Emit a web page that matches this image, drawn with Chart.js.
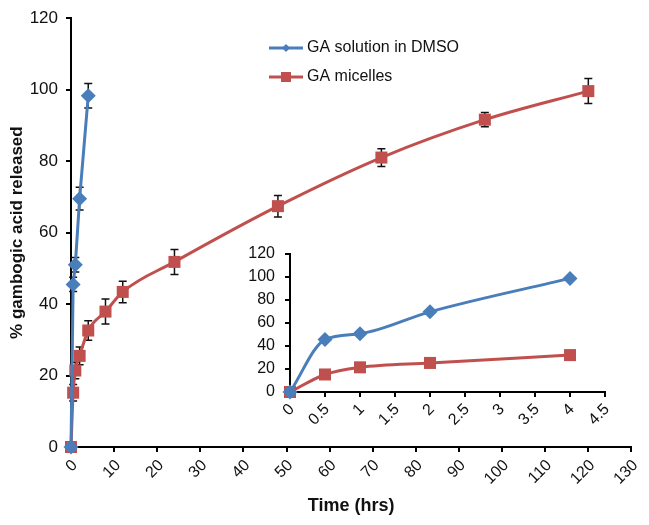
<!DOCTYPE html>
<html>
<head>
<meta charset="utf-8">
<script src="https://cdn.jsdelivr.net/npm/chart.js@4/dist/chart.umd.min.js"></script>
<style>
  html,body{margin:0;padding:0;background:#fff;}
  #wrap{position:relative;width:649px;height:525px;}
  #main{position:absolute;left:0;top:0;}
  #inset{position:absolute;left:236px;top:234px;}
</style>
</head>
<body>
<div id="wrap">
  <canvas id="main" width="649" height="525"></canvas>
  <canvas id="inset" width="394" height="216"></canvas>
</div>
<script>
// ---- data ----
const seriesNames = ['GA solution in DMSO', 'GA micelles'];
const dmsoTime = [0, 0.5, 1, 2, 4];
const dmsoRelease = [0, 45.5, 51, 69.5, 98.3];
const dmsoError = [0, 2, 2, 3.2, 3.4];
const micTime = [0, 0.5, 1, 2, 4, 8, 12, 24, 48, 72, 96, 120];
const micRelease = [0, 15.2, 21.4, 25.5, 32.6, 37.9, 43.4, 51.8, 67.4, 81, 91.6, 99.6];
const micError = [0, 2.3, 2.3, 2.5, 2.7, 3.5, 3, 3.5, 3, 2.5, 2, 3.5];
const insetTime = [0, 0.5, 1, 2, 4];
const insetDmso = [0, 45.5, 50.5, 69.5, 98.5];
const insetMic = [0, 15.2, 21.4, 25.2, 32];
const xTitle = 'Time (hrs)';
const yTitle = '% gambogic acid released';

const BLUE = '#4A7EBB';
const RED = '#C0504D';
const FONT = "'Liberation Sans', Arial, sans-serif";

const toPts = (xs, ys) => xs.map((x, i) => ({x: x, y: ys[i]}));

const errorBars = {
  id: 'errorBars',
  beforeDatasetsDraw(chart) {
    const ctx = chart.ctx;
    const ys = chart.scales.y;
    chart.data.datasets.forEach((ds, di) => {
      if (!ds.errors) return;
      const meta = chart.getDatasetMeta(di);
      meta.data.forEach((pt, i) => {
        const e = ds.errors[i];
        if (!e) return;
        const v = ds.data[i].y;
        const top = ys.getPixelForValue(v + e);
        const bot = ys.getPixelForValue(v - e);
        ctx.save();
        ctx.strokeStyle = '#111';
        ctx.lineWidth = 1.5;
        ctx.beginPath();
        ctx.moveTo(pt.x, top); ctx.lineTo(pt.x, bot);
        ctx.moveTo(pt.x - 4, top); ctx.lineTo(pt.x + 4, top);
        ctx.moveTo(pt.x - 4, bot); ctx.lineTo(pt.x + 4, bot);
        ctx.stroke();
        ctx.restore();
      });
    });
  }
};

const customLegend = {
  id: 'customLegend',
  afterDraw(chart) {
    const ctx = chart.ctx;
    const x0 = 269, x1 = 303, tx = 307;
    const rows = [48, 77];
    chart.data.datasets.forEach((ds, i) => {
      const y = rows[i];
      const cx = (x0 + x1) / 2;
      ctx.save();
      ctx.strokeStyle = ds.borderColor;
      ctx.lineWidth = 3;
      ctx.beginPath(); ctx.moveTo(x0, y); ctx.lineTo(x1, y); ctx.stroke();
      ctx.fillStyle = ds.backgroundColor;
      ctx.beginPath();
      if (ds.pointStyle === 'rect') { ctx.rect(cx - 5, y - 5, 10, 10); }
      else { ctx.moveTo(cx - 4, y); ctx.lineTo(cx, y - 4); ctx.lineTo(cx + 4, y); ctx.lineTo(cx, y + 4); ctx.closePath(); }
      ctx.fill();
      ctx.fillStyle = '#111';
      ctx.font = '16px ' + FONT;
      ctx.textBaseline = 'middle';
      ctx.fillText(ds.label, tx, y);
      ctx.restore();
    });
  }
};

function axisCommon(extra) {
  return Object.assign({
    type: 'linear',
    border: {color: '#000', width: 2},
    grid: {drawOnChartArea: false, drawTicks: true, tickLength: 5, color: '#000', lineWidth: 2},
  }, extra);
}

new Chart(document.getElementById('main'), {
  type: 'line',
  data: {
    datasets: [
      {label: seriesNames[0], data: toPts(dmsoTime, dmsoRelease), errors: dmsoError,
       borderColor: BLUE, backgroundColor: BLUE, borderWidth: 3, pointStyle: 'rectRot', pointRadius: 7.5,
       pointBorderWidth: 0, tension: 0, clip: false},
      {label: seriesNames[1], data: toPts(micTime, micRelease), errors: micError,
       borderColor: RED, backgroundColor: RED, borderWidth: 3, pointStyle: 'rect', pointRadius: 8.5,
       pointBorderWidth: 0, cubicInterpolationMode: 'monotone', clip: false}
    ]
  },
  options: {
    responsive: false, animation: false, devicePixelRatio: 1,
    layout: {padding: {top: 11, right: 9, bottom: 0, left: 0}},
    plugins: {legend: {display: false}, tooltip: {enabled: false}},
    scales: {
      x: axisCommon({
        min: 0, max: 130,
        afterFit(s) { s.height = 78; },
        ticks: {stepSize: 10, autoSkip: false, maxRotation: 45, minRotation: 45, color: '#111', font: {family: FONT, size: 16}, padding: 4, labelOffset: 4},
        title: {display: true, text: xTitle, color: '#111', font: {family: FONT, size: 18, weight: 'bold'}, padding: {top: 0, bottom: 8}}
      }),
      y: axisCommon({
        min: 0, max: 120,
        afterFit(s) { s.width = 71; },
        ticks: {stepSize: 20, autoSkip: false, color: '#111', font: {family: FONT, size: 17}, padding: 8},
        title: {display: true, text: yTitle, color: '#111', font: {family: FONT, size: 17, weight: 'bold'}, padding: {top: 7, bottom: 4}}
      })
    }
  },
  plugins: [errorBars, customLegend]
});

new Chart(document.getElementById('inset'), {
  type: 'line',
  data: {
    datasets: [
      {label: seriesNames[0], data: toPts(insetTime, insetDmso),
       borderColor: BLUE, backgroundColor: BLUE, borderWidth: 3, pointStyle: 'rectRot', pointRadius: 7.5,
       pointBorderWidth: 0, cubicInterpolationMode: 'monotone', clip: false},
      {label: seriesNames[1], data: toPts(insetTime, insetMic),
       borderColor: RED, backgroundColor: RED, borderWidth: 3, pointStyle: 'rect', pointRadius: 8.5,
       pointBorderWidth: 0, cubicInterpolationMode: 'monotone', clip: false}
    ]
  },
  options: {
    responsive: false, animation: false, devicePixelRatio: 1,
    layout: {padding: {top: 10, right: 25, bottom: 0, left: 0}},
    plugins: {legend: {display: false}, tooltip: {enabled: false}},
    scales: {
      x: axisCommon({
        min: 0, max: 4.5,
        afterFit(s) { s.height = 58; },
        ticks: {stepSize: 0.5, autoSkip: false, maxRotation: 45, minRotation: 45, color: '#111', font: {family: FONT, size: 16}, padding: 3, labelOffset: 2,
                callback: v => String(Math.round(v * 10) / 10)}
      }),
      y: axisCommon({
        min: 0, max: 120,
        afterFit(s) { s.width = 54; },
        ticks: {stepSize: 20, autoSkip: false, color: '#111', font: {family: FONT, size: 16}, padding: 10}
      })
    }
  }
});
</script>
</body>
</html>
